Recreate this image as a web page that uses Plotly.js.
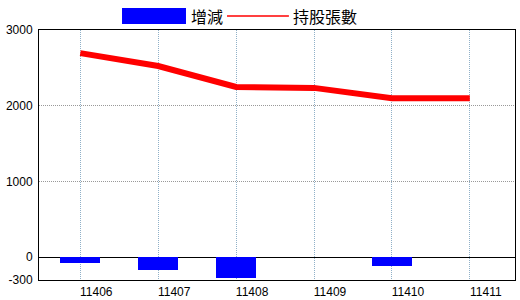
<!DOCTYPE html>
<html>
<head>
<meta charset="utf-8">
<script src="https://cdn.plot.ly/plotly-3.0.1.min.js"></script>
<style>html,body{margin:0;padding:0;background:#fff;}#chart{width:520px;height:300px;}</style>
</head>
<body>
<div id="chart"></div>
<script>
const categories = ["11406", "11407", "11408", "11409", "11410", "11411"];
const changeValues = [-75, -165, -270, 0, -110, 0];
const holdingValues = [2695, 2525, 2248, 2236, 2098, 2098];
const yTickVals = [-300, 0, 1000, 2000, 3000];
const yTickText = ["-300", "0", "1000", "2000", "3000"];
const legendLabels = ["增減", "持股張數"];

const barColor = "#0000ff";
const lineColor = "#ff0000";

const traces = [
  {
    type: "bar",
    x: categories,
    y: changeValues,
    width: 0.51,
    marker: {color: barColor, line: {width: 0}},
    name: legendLabels[0],
    showlegend: false
  },
  {
    type: "scatter",
    mode: "lines",
    x: categories,
    y: holdingValues,
    line: {color: lineColor, width: 6},
    name: legendLabels[1],
    showlegend: false
  }
];

const layout = {
  width: 520,
  height: 300,
  margin: {l: 39, r: 5, t: 30, b: 20},
  paper_bgcolor: "#ffffff",
  plot_bgcolor: "#ffffff",
  font: {family: "Liberation Sans, Arial, sans-serif", size: 12, color: "#000"},
  bargap: 0,
  xaxis: {
    type: "category",
    range: [-0.53, 5.58],
    showgrid: true,
    gridcolor: "#8fb0c8",
    griddash: "1px,1px",
    gridwidth: 1,
    showline: true,
    mirror: true,
    linecolor: "#000",
    linewidth: 1,
    ticks: "",
    ticklabelshift: 16,
    ticklabelstandoff: 1,
    tickfont: {size: 12, color: "#000"},
    zeroline: false
  },
  yaxis: {
    range: [-300, 3000],
    tickvals: yTickVals,
    ticktext: yTickText,
    showgrid: true,
    gridcolor: "#999999",
    griddash: "1px,1px",
    gridwidth: 1,
    zeroline: true,
    zerolinecolor: "#000",
    zerolinewidth: 1,
    showline: true,
    mirror: true,
    linecolor: "#000",
    linewidth: 1,
    ticks: "",
    ticklabelstandoff: 3,
    tickfont: {size: 12, color: "#000"}
  },
  shapes: [
    {type: "rect", xref: "paper", yref: "paper", x0: 0.1744, x1: 0.3088, y0: 1.024, y1: 1.088,
     fillcolor: barColor, line: {width: 0}},
    {type: "line", xref: "paper", yref: "paper", x0: 0.395, x1: 0.525, y0: 1.056, y1: 1.056,
     line: {color: lineColor, width: 1.5}}
  ],
  annotations: [
    {xref: "paper", yref: "paper", x: 0.315, y: 1.056, xanchor: "left", yanchor: "middle",
     text: legendLabels[0], showarrow: false,
     font: {family: "Noto Sans CJK TC, sans-serif", size: 16, color: "#000"}},
    {xref: "paper", yref: "paper", x: 0.53, y: 1.056, xanchor: "left", yanchor: "middle",
     text: legendLabels[1], showarrow: false,
     font: {family: "Noto Sans CJK TC, sans-serif", size: 16, color: "#000"}}
  ]
};

Plotly.newPlot("chart", traces, layout, {staticPlot: true, displayModeBar: false});
</script>
</body>
</html>
